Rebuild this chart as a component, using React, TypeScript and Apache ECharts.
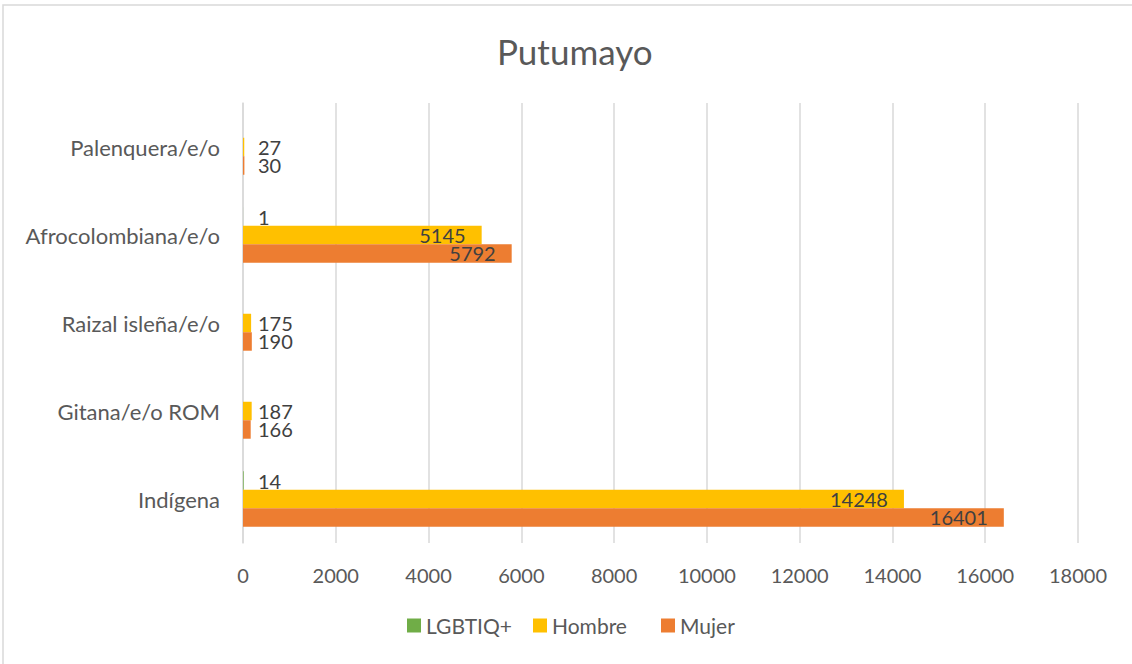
import React, { useEffect, useRef } from "react";
import * as echarts from "echarts";

const title = "Putumayo";
const categories = ["Indígena", "Gitana/e/o ROM", "Raizal isleña/e/o", "Afrocolombiana/e/o", "Palenquera/e/o"];
const seriesNames = ["LGBTIQ+", "Hombre", "Mujer"];
const lgbtiq: (number | null)[] = [14, null, null, 1, null];
const hombre: (number | null)[] = [14248, 187, 175, 5145, 27];
const mujer: (number | null)[] = [16401, 166, 190, 5792, 30];
const colors = ["#70ad47", "#ffc000", "#ed7d31"];
const xTicks = { min: 0, max: 18000, interval: 2000 };
const legendLefts = [407, 533, 661];

const FONT = "Lato";

function makeData(values: (number | null)[]) {
  return values.map((v) => {
    if (v === null) return { value: null };
    const big = v > 1000;
    return {
      value: v,
      label: big
        ? { position: "insideRight", distance: 16 }
        : { position: "insideLeft", distance: 15 },
    };
  });
}

export default function App() {
  const ref = useRef<HTMLDivElement>(null);
  useEffect(() => {
    if (!ref.current) return;
    const chart = echarts.init(ref.current, null, { renderer: "svg" });
    const all = [lgbtiq, hombre, mujer];
    chart.setOption({
      animation: false,
      backgroundColor: "#ffffff",
      title: {
        text: title,
        left: 492,
        top: 28,
        textStyle: { fontFamily: FONT, fontSize: 35, fontWeight: "normal", color: "#595959" },
      },
      graphic: [
        {
          type: "rect",
          shape: { x: 3, y: 5, width: 1140, height: 700 },
          style: { fill: "none", stroke: "#d9d9d9", lineWidth: 1.5 },
          silent: true,
        },
      ],
      legend: seriesNames.map((name, i) => ({
        data: [name],
        bottom: 23,
        left: legendLefts[i] - 5,
        icon: "rect",
        itemWidth: 14,
        itemHeight: 14,
        textStyle: { fontFamily: FONT, fontSize: 21, color: "#595959" },
      })),
      grid: { left: 243, right: 54, top: 103, bottom: 121, containLabel: false },
      xAxis: {
        type: "value",
        min: xTicks.min,
        max: xTicks.max,
        interval: xTicks.interval,
        axisLine: { show: false },
        axisTick: { show: false },
        axisLabel: {
          fontFamily: FONT,
          fontSize: 20,
          color: "#595959",
          margin: 22,
          formatter: (v: number) => String(v),
        },
        splitLine: { show: true, lineStyle: { color: "#d9d9d9", width: 1.5 } },
      },
      yAxis: {
        type: "category",
        data: categories,
        axisLine: { show: true, lineStyle: { color: "#d9d9d9", width: 1.5 } },
        axisTick: { show: false },
        axisLabel: { fontFamily: FONT, fontSize: 22, color: "#595959", margin: 23 },
      },
      series: seriesNames.map((name, i) => ({
        name,
        type: "bar",
        data: makeData(all[i]),
        barGap: "0%",
        barCategoryGap: "37%",
        itemStyle: { color: colors[i] },
        label: {
          show: true,
          fontFamily: FONT,
          fontSize: 20,
          lineHeight: 17,
          color: "#404040",
          formatter: (p: any) => (p.value === null || p.value === undefined ? "" : String(p.value)),
        },
      })),
    });
    return () => chart.dispose();
  }, []);
  return (
    <div
      ref={ref}
      style={{ position: "fixed", left: 0, top: 0, width: 1132, height: 664 }}
    />
  );
}
